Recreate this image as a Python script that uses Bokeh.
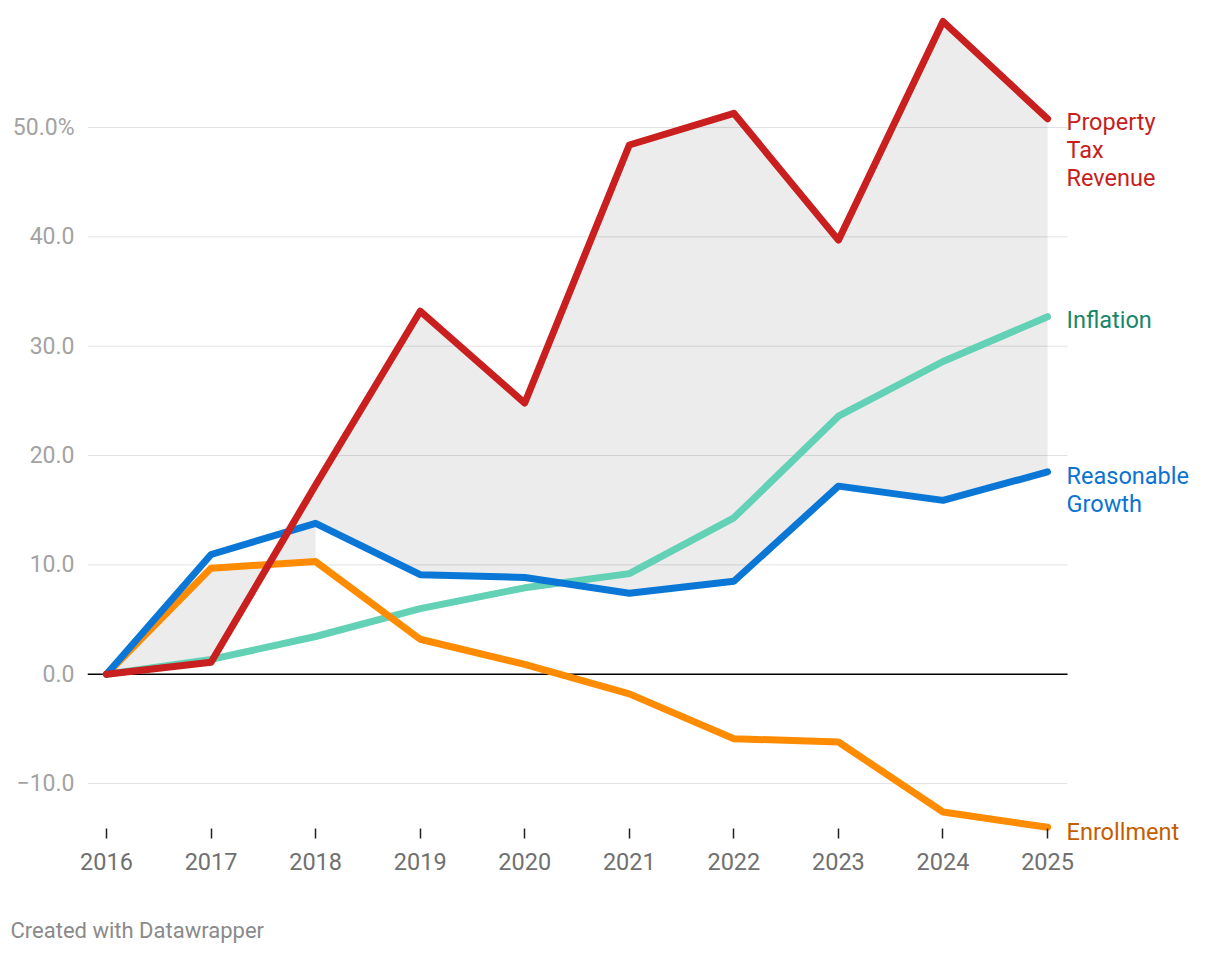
from bokeh.plotting import figure
from bokeh.models import FixedTicker, Label, Title
from bokeh.embed import file_html
from bokeh.resources import INLINE

years = [2016, 2017, 2018, 2019, 2020, 2021, 2022, 2023, 2024, 2025]
property_tax = [0.0, 1.1, 17.3, 33.2, 24.8, 48.4, 51.3, 39.7, 59.7, 50.8]
reasonable_growth = [0.0, 10.95, 13.8, 9.1, 8.85, 7.4, 8.5, 17.2, 15.9, 18.5]
inflation = [0.0, 1.35, 3.45, 6.0, 7.9, 9.2, 14.3, 23.6, 28.6, 32.7]
enrollment = [0.0, 9.7, 10.3, 3.2, 0.9, -1.8, -5.9, -6.2, -12.6, -14.0]

y_ticks = [-10, 0, 10, 20, 30, 40, 50]
y_tick_labels = ["\u221210.0", "0.0", "10.0", "20.0", "30.0", "40.0", "50.0%"]

FONT = "Roboto"
X_START, X_END = 2015.8183, 2026.501
Y_START, Y_END = -15.94, 60.52
GRID_END = 2025.191

p = figure(width=1204, height=954, output_backend="svg", toolbar_location=None,
           x_range=(X_START, X_END), y_range=(Y_START, Y_END),
           min_border_left=87, min_border_right=0, min_border_top=12, min_border_bottom=106)
p.outline_line_color = None
p.xgrid.grid_line_color = None
p.ygrid.grid_line_color = None

# horizontal grid lines (segments so they stop before the end labels)
grid_vals = [t for t in y_ticks if t != 0]
p.segment(x0=[X_START] * len(grid_vals), x1=[GRID_END] * len(grid_vals), y0=grid_vals, y1=grid_vals,
          line_color="#e2e2e2", line_width=1)

# shaded band between Property Tax and the comparison lines
split = years.index(2018)
p.varea(x=years[:split + 1], y1=property_tax[:split + 1], y2=enrollment[:split + 1],
        fill_color="#000000", fill_alpha=0.075)
p.varea(x=years[split:], y1=property_tax[split:], y2=reasonable_growth[split:],
        fill_color="#000000", fill_alpha=0.075)

# zero baseline
p.segment(x0=[X_START], x1=[GRID_END], y0=[0], y1=[0], line_color="#000000", line_width=1.5)

lw = 7
p.line(years, inflation, line_color="#62d1b5", line_width=lw, line_join="round", line_cap="round")
p.line(years, enrollment, line_color="#ff8c00", line_width=lw, line_join="round", line_cap="round")
p.line(years, reasonable_growth, line_color="#0a77d6", line_width=lw, line_join="round", line_cap="round")
p.line(years, property_tax, line_color="#c91f1f", line_width=lw, line_join="round", line_cap="round")

# axes
p.xaxis.ticker = FixedTicker(ticks=years)
p.xaxis.minor_tick_line_color = None
p.xaxis.axis_line_color = None
p.xaxis.major_tick_line_color = "#222222"
p.xaxis.major_tick_line_width = 1.5
p.xaxis.major_tick_in = 20
p.xaxis.major_tick_out = -10
p.xaxis.major_label_standoff = 4
p.xaxis.major_label_text_font = FONT
p.xaxis.major_label_text_font_size = "23.5px"
p.xaxis.major_label_text_color = "#707070"
p.xaxis.axis_label = " "
p.xaxis.axis_label_standoff = 19
p.xaxis.axis_label_text_font_size = "14px"

p.yaxis.ticker = FixedTicker(ticks=y_ticks)
p.yaxis.major_label_overrides = {t: l for t, l in zip(y_ticks, y_tick_labels)}
p.yaxis.axis_line_color = None
p.yaxis.major_tick_line_color = None
p.yaxis.minor_tick_line_color = None
p.yaxis.major_tick_out = 0
p.yaxis.major_tick_in = 0
p.yaxis.major_label_standoff = 13
p.yaxis.major_label_text_font = FONT
p.yaxis.major_label_text_font_size = "23px"
p.yaxis.major_label_text_color = "#a3a3a3"

# end labels
last = len(years) - 1
labels = [
    (["Property", "Tax", "Revenue"], property_tax[last], -3, "#c71e1d"),
    (["Inflation"], inflation[last], -3, "#18866b"),
    (["Reasonable", "Growth"], reasonable_growth[last], -4, "#0b73d3"),
    (["Enrollment"], enrollment[last], -5, "#c55d00"),
]
for lines, yv, off, col in labels:
    for i, t in enumerate(lines):
        p.add_layout(Label(x=years[last], y=yv, x_offset=19, y_offset=off - 28 * i, text=t,
                           text_font=FONT, text_font_size="23.5px", text_color=col,
                           text_baseline="middle", text_align="left"))

footer = Title(text="Created with Datawrapper", align="left", offset=-77, standoff=10,
               text_font=FONT, text_font_size="22px", text_color="#8a8a8a", text_font_style="normal")
p.add_layout(footer, "below")

open("out.html", "w").write(file_html(p, INLINE))
